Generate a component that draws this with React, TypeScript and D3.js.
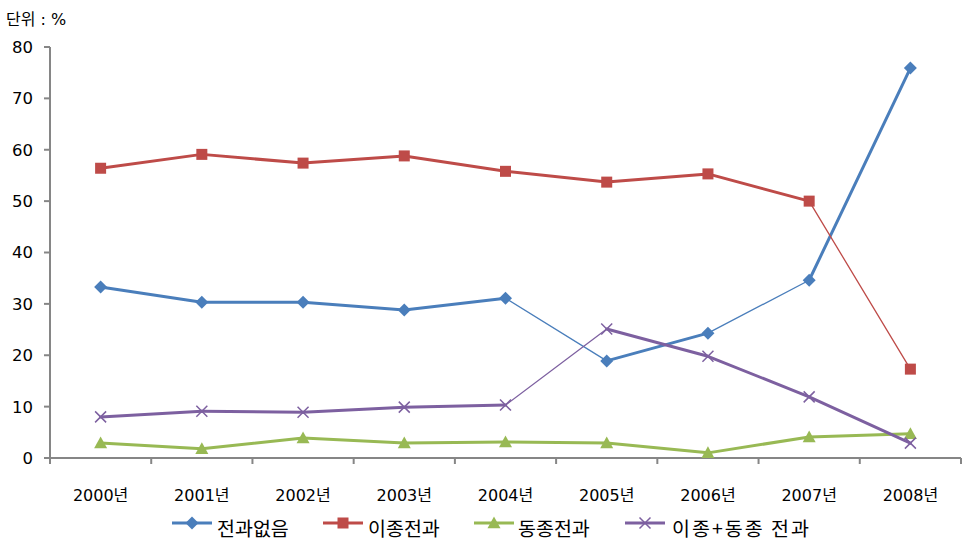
import React from "react";
import * as d3 from "d3";

const categories = ["2000년", "2001년", "2002년", "2003년", "2004년", "2005년", "2006년", "2007년", "2008년"];
const seriesNames = ["전과없음", "이종전과", "동종전과", "이종+동종 전과"];
const noRecord = [33.3, 30.3, 30.3, 28.8, 31.1, 18.9, 24.3, 34.6, 75.9];
const diffRecord = [56.4, 59.1, 57.4, 58.8, 55.8, 53.7, 55.3, 50.0, 17.3];
const sameRecord = [2.9, 1.8, 3.9, 2.9, 3.1, 2.9, 1.0, 4.1, 4.7];
const bothRecord = [8.0, 9.1, 8.9, 9.9, 10.3, 25.1, 19.8, 11.9, 2.9];
const yTicks = [0, 10, 20, 30, 40, 50, 60, 70, 80];
// segments drawn thin (index of start point)
const thinSegs = [[4, 6], [7], [], [4]];

const colors = ["#4A7EBB", "#BE4B48", "#98B954", "#7D60A0"];
const seriesData = [noRecord, diffRecord, sameRecord, bothRecord];
const markers = ["diamond", "square", "triangle", "x"];

const W = 970, H = 550;
const left = 50, right = 961, top = 47, bottom = 458;

function Marker({ type, x, y, color }: { type: string; x: number; y: number; color: string }) {
  if (type === "diamond") {
    const r = 6.5;
    return <path d={`M${x},${y - r}L${x + r},${y}L${x},${y + r}L${x - r},${y}Z`} fill={color} />;
  }
  if (type === "square") {
    const r = 5.5;
    return <rect x={x - r} y={y - r} width={2 * r} height={2 * r} fill={color} />;
  }
  if (type === "triangle") {
    const r = 6.5;
    return <path d={`M${x},${y - r}L${x + r},${y + r * 0.8}L${x - r},${y + r * 0.8}Z`} fill={color} />;
  }
  const r = 5.5;
  return (
    <path d={`M${x - r},${y - r}L${x + r},${y + r}M${x + r},${y - r}L${x - r},${y + r}`} stroke={color} strokeWidth={1.5} fill="none" />
  );
}

export default function App() {
  const x = d3.scaleBand().domain(categories).range([left, right]);
  const y = d3.scaleLinear().domain([0, 80]).range([bottom, top]);
  const cx = (c: string) => (x(c) as number) + x.bandwidth() / 2;
  const font = "'DejaVu Sans', 'Noto Sans CJK KR', sans-serif";
  const krFont = "'Noto Sans CJK KR', sans-serif";

  const legendItems = [
    { lx: 172, tx: 217, ls: 0 },
    { lx: 323, tx: 368, ls: 0 },
    { lx: 474, tx: 518, ls: 0 },
    { lx: 625, tx: 672, ls: 2 },
  ];

  return (
    <svg width={W} height={H} style={{ position: "absolute", left: 0, top: 0, background: "#fff" }} fontFamily={font}>
      <text x={6} y={25} fontSize={16} fill="#000">단위 : %</text>
      {/* y axis */}
      <line x1={left} x2={left} y1={top} y2={bottom} stroke="#868686" strokeWidth={2} />
      {yTicks.map((t) => (
        <g key={t}>
          <line x1={left - 6} x2={left} y1={y(t)} y2={y(t)} stroke="#868686" strokeWidth={2} />
          <text x={33} y={y(t)} dy="0.36em" textAnchor="end" fontSize={16.5} fill="#000">{t}</text>
        </g>
      ))}
      {/* x axis */}
      <line x1={left} x2={right} y1={bottom} y2={bottom} stroke="#868686" strokeWidth={2} />
      {categories.map((c, i) => (
        <line key={"xt" + i} x1={(x(c) as number)} x2={(x(c) as number)} y1={bottom} y2={bottom + 6} stroke="#868686" strokeWidth={2} />
      ))}
      <line x1={right} x2={right} y1={bottom} y2={bottom + 6} stroke="#868686" strokeWidth={2} />
      {categories.map((c) => (
        <text key={c} x={cx(c)} y={501} textAnchor="middle" fontSize={16} fill="#000">{c}</text>
      ))}
      {/* series */}
      {seriesData.map((vals, si) => (
        <g key={si}>
          {vals.slice(0, -1).map((v, i) => (
            <line
              key={i}
              x1={cx(categories[i])}
              y1={y(v)}
              x2={cx(categories[i + 1])}
              y2={y(vals[i + 1])}
              stroke={colors[si]}
              strokeWidth={thinSegs[si].includes(i) ? 1.3 : 3}
              strokeLinecap="round"
            />
          ))}
          {vals.map((v, i) => (
            <Marker key={"m" + i} type={markers[si]} x={cx(categories[i])} y={y(v)} color={colors[si]} />
          ))}
        </g>
      ))}
      {/* legend */}
      {seriesNames.map((n, i) => {
        const it = legendItems[i];
        const w = 40;
        return (
          <g key={n}>
            <line x1={it.lx} x2={it.lx + w} y1={523} y2={523} stroke={colors[i]} strokeWidth={3} />
            <Marker type={markers[i]} x={it.lx + w / 2} y={523} color={colors[i]} />
            <text x={it.tx} y={529} dy="0.35em" fontSize={19.5} fontFamily={krFont} fill="#000" letterSpacing={it.ls}>{n}</text>
          </g>
        );
      })}
    </svg>
  );
}
